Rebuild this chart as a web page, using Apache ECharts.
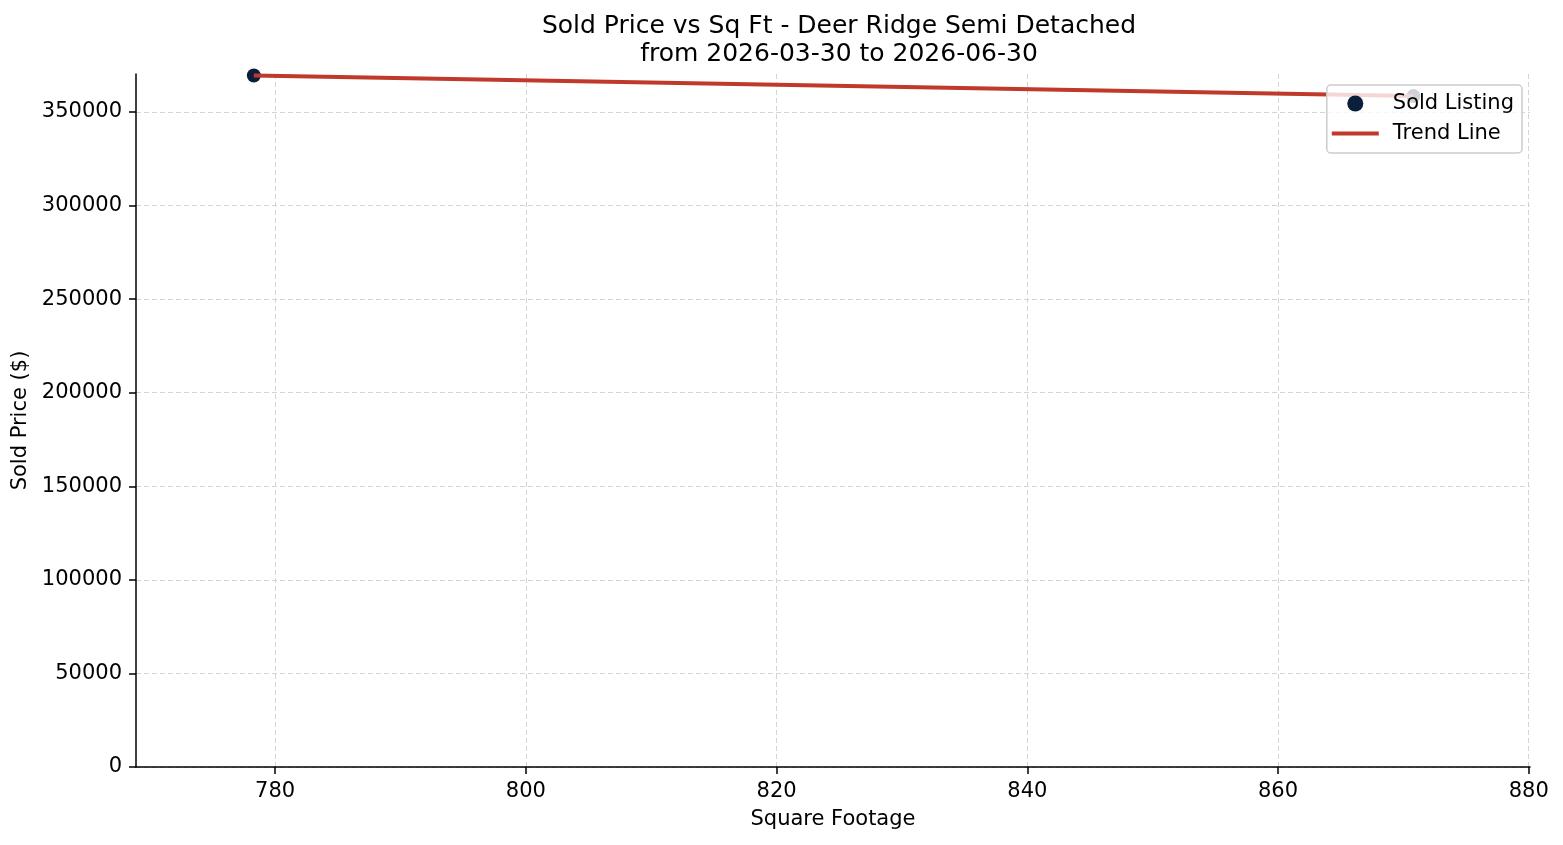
<!DOCTYPE html>
<html>
<head>
<meta charset="utf-8">
<script src="https://cdn.jsdelivr.net/npm/echarts@6/dist/echarts.min.js"></script>
<style>
  html, body { margin: 0; padding: 0; background: #fff; }
  #chartDom { width: 1563px; height: 845px; }
</style>
</head>
<body>
<div id="chartDom"></div>
<script>
// sold listings
const soldSqft = [778.3, 870.8];
const soldPrice = [369500, 358500];
// fitted trend line end points
const trendSqft = [778.3, 870.8];
const trendPrice = [369500, 358500];
// ticks
const xTicks = [780, 800, 820, 840, 860, 880];
const yTicks = [0, 50000, 100000, 150000, 200000, 250000, 300000, 350000];

const font = "DejaVu Sans";

let myChart = echarts.init(document.getElementById("chartDom"));

const option = {
  backgroundColor: "#fff",
  animation: false,
  textStyle: { fontFamily: font },
  title: {
    text: "Sold Price vs Sq Ft - Deer Ridge Semi Detached\nfrom 2026-03-30 to 2026-06-30",
    left: 834,
    top: 7,
    textAlign: "center",
    textStyle: {
      fontFamily: font,
      fontSize: 25,
      fontWeight: "normal",
      color: "#000",
      lineHeight: 28,
    },
  },
  legend: {
    orient: "vertical",
    right: 41,
    top: 85,
    align: "left",
    padding: [8, 8, 9, 5],
    itemGap: 9,
    itemWidth: 47,
    itemHeight: 16,
    backgroundColor: "rgba(255,255,255,0.8)",
    borderColor: "#cccccc",
    borderWidth: 1.5,
    borderRadius: 4,
    textStyle: {
      fontFamily: font,
      fontSize: 21,
      color: "#000",
      padding: [0, 0, 0, 9],
    },
    data: [
      { name: "Sold Listing", icon: "circle" },
      // thin bar inside a 47x16 box, so it isn't stretched
      { name: "Trend Line", icon: "path://M0,0 M47,16 M0,6 L47,6 L47,10 L0,10 Z" },
    ],
  },
  grid: {
    left: 136,
    right: 33,
    top: 74,
    bottom: 78,
  },
  xAxis: {
    type: "value",
    min: 768.9,
    max: 880.1,
    name: "Square Footage",
    nameLocation: "middle",
    nameGap: 42,
    nameTextStyle: { fontFamily: font, fontSize: 21, color: "#000" },
    axisLine: { show: true, lineStyle: { color: "#000", width: 1.5 } },
    axisTick: {
      show: true,
      length: 7,
      customValues: xTicks,
      lineStyle: { color: "#000", width: 1.5 },
    },
    axisLabel: {
      margin: 14,
      fontSize: 21,
      color: "#000",
      customValues: xTicks,
      formatter: (v) => String(v),
    },
    splitLine: {
      show: true,
      lineStyle: { color: "#d4d4d4", type: [5, 3], width: 1 },
    },
  },
  yAxis: {
    type: "value",
    min: 0,
    max: 370300,
    name: "Sold Price ($)",
    nameLocation: "middle",
    nameGap: 101,
    nameTextStyle: { fontFamily: font, fontSize: 21, color: "#000" },
    axisLine: { show: true, lineStyle: { color: "#000", width: 1.5 } },
    axisTick: {
      show: true,
      length: 7,
      customValues: yTicks,
      lineStyle: { color: "#000", width: 1.5 },
    },
    axisLabel: {
      margin: 14,
      fontSize: 21,
      color: "#000",
      customValues: yTicks,
      formatter: (v) => String(v),
    },
    splitLine: {
      show: true,
      lineStyle: { color: "#d4d4d4", type: [5, 3], width: 1 },
    },
  },
  series: [
    {
      name: "Sold Listing",
      type: "scatter",
      symbol: "circle",
      symbolSize: 14,
      itemStyle: { color: "#0b1f3d", opacity: 1 },
      data: soldSqft.map((x, i) => [x, soldPrice[i]]),
      z: 2,
    },
    {
      name: "Trend Line",
      type: "line",
      symbol: "none",
      lineStyle: { color: "#c0392b", width: 4 },
      itemStyle: { color: "#c0392b" },
      data: trendSqft.map((x, i) => [x, trendPrice[i]]),
      z: 3,
    },
  ],
};

option && myChart.setOption(option);
</script>
</body>
</html>
